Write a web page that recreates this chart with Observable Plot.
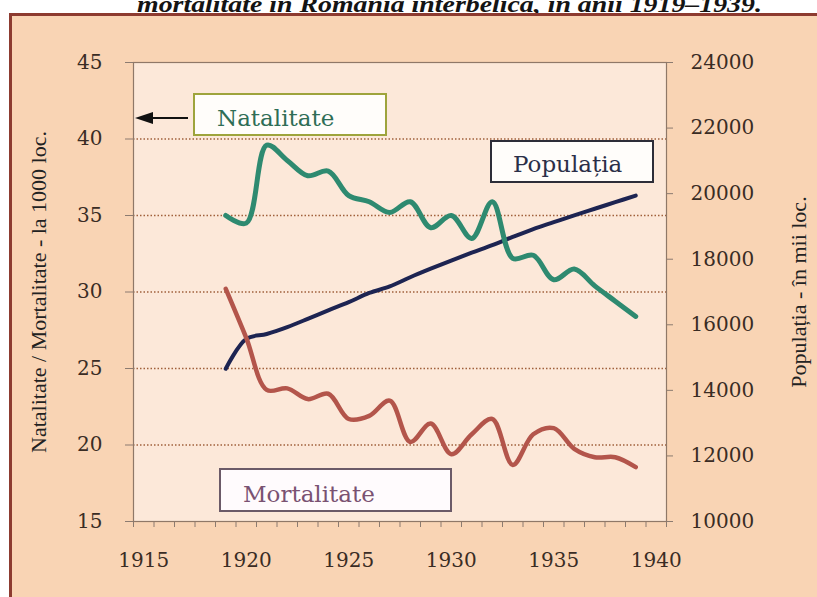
<!DOCTYPE html>
<html><head><meta charset="utf-8">
<script src="https://cdn.jsdelivr.net/npm/d3@7"></script>
<script src="https://cdn.jsdelivr.net/npm/@observablehq/plot@0.6"></script>
<style>
html,body{margin:0;padding:0;background:#fff;overflow:hidden;width:817px;height:597px;}
#wrap{position:relative;width:817px;height:597px;overflow:hidden;}
#title{position:absolute;left:137px;top:-9px;line-height:24px;font:italic bold 24px "Liberation Serif";color:#141414;white-space:nowrap;transform:scaleX(1.16);transform-origin:0 0;}
#frame{position:absolute;left:9px;top:13px;width:808px;height:584px;background:#f9d4b4;}
#bl{position:absolute;left:9px;top:13px;width:3px;height:584px;background:#8d3b30;}
#bt{position:absolute;left:9px;top:13px;width:808px;height:3px;background:#8d3b30;}
#chart{position:absolute;left:0;top:0;}
.box{position:absolute;box-sizing:border-box;font-family:"DejaVu Serif";font-size:23px;background:#fffdfa;white-space:nowrap;}
#arrow{position:absolute;left:0;top:0;}
</style></head>
<body>
<div id="wrap">
  <div id="title">mortalitate în România interbelică, în anii 1919–1939.</div>
  <div id="frame"></div>
  <div id="bl"></div>
  <div id="bt"></div>
  <div id="chart"></div>
  <svg id="arrow" width="817" height="597"><line x1="150" y1="118" x2="188" y2="118" stroke="#111" stroke-width="2"/><polygon points="135,118 153,112 153,124" fill="#111"/></svg>
  <div class="box" style="left:193px;top:93px;width:194px;height:43px;border:2px solid #9ea43c;color:#2f6e56;padding-left:22px;line-height:46px;">Natalitate</div>
  <div class="box" style="left:490px;top:140px;width:164px;height:43px;border:2px solid #2d2d38;color:#2b2f48;padding-left:21px;line-height:44px;">Populația</div>
  <div class="box" style="left:219px;top:468px;width:233px;height:44px;border:2px solid #6b5a68;color:#7a5272;padding-left:22px;line-height:48px;background:#fffbfd;">Mortalitate</div>
</div>
<script>
const years = [1919,1920,1921,1922,1923,1924,1925,1926,1927,1928,1929,1930,1931,1932,1933,1934,1935,1936,1937,1938,1939];
const natalitate = [35.0,34.5,39.6,38.6,37.6,37.9,36.3,35.9,35.2,35.9,34.2,35.0,33.5,35.9,32.2,32.4,30.8,31.5,30.4,29.4,28.4];
const mortalitate = [30.2,27.0,23.6,23.7,23.0,23.35,21.7,21.9,22.9,20.2,21.4,19.4,20.7,21.7,18.7,20.7,21.1,19.75,19.2,19.2,18.55];
const populatia = [14660,15570,15720,15930,16180,16440,16690,16970,17170,17450,17710,17960,18200,18430,18680,18920,19130,19340,19540,19740,19940];
const leftTicks = [15,20,25,30,35,40,45];
const gridTicks = [20,25,30,35,40];
const rightTicks = [10000,12000,14000,16000,18000,20000,22000,24000];
const xLabels = [1915,1920,1925,1930,1935,1940];
const minorTicks = [1914.5,1915.5,1916.5,1917.5,1918.5,1919.5,1920.5,1921.5,1922.5,1923.5,1924.5,1925.5,1926.5,1927.5,1928.5,1929.5,1930.5,1931.5,1932.5,1933.5,1934.5,1935.5,1936.5,1937.5,1938.5,1939.5,1940.5];

const popLeft = d3.scaleLinear().domain([10000,24000]).range([15,45]);
const rows = years.map((year,i)=>({year, nat: natalitate[i], mort: mortalitate[i], pop: popLeft(populatia[i])}));

const chart = Plot.plot({
  width:817, height:597,
  marginLeft:133, marginRight:151, marginTop:62, marginBottom:76,
  style:{background:"transparent", fontFamily:"DejaVu Serif", fontSize:"20px", color:"#3a2c24"},
  x:{domain:[1914.5,1940.5], label:null},
  y:{domain:[15,45], label:null},
  marks:[
    Plot.frame({fill:"#fce8d9", stroke:null}),
    Plot.ruleY(gridTicks, {stroke:"#a0603c", strokeDasharray:"1.5,2", strokeWidth:1.3}),
    Plot.axisY(leftTicks, {anchor:"left", tickSize:8, tickPadding:23, stroke:"#8c7b70", label:null}),
    Plot.axisY(rightTicks.map(popLeft), {anchor:"right", tickSize:6, tickPadding:18, stroke:"#8c7b70", tickFormat:d=>String(Math.round(popLeft.invert(d))), label:null}),
    Plot.axisX(minorTicks, {anchor:"bottom", tickSize:6, stroke:"#8c7b70", tickFormat:()=>"", label:null}),
    Plot.axisX(xLabels, {anchor:"bottom", tickSize:0, tickPadding:31, tickFormat:d=>String(d), label:null}),
    Plot.frame({stroke:"#8f7868", strokeWidth:1.2}),
    Plot.line(rows, {x:"year", y:"pop", stroke:"#1d2452", strokeWidth:4, curve:"catmull-rom"}),
    Plot.line(rows, {x:"year", y:"mort", stroke:"#b3554b", strokeWidth:4.5, curve:"catmull-rom"}),
    Plot.line(rows, {x:"year", y:"nat", stroke:"#2e8a70", strokeWidth:5, curve:"catmull-rom"}),
    Plot.text(["Natalitate / Mortalitate - la 1000 loc."], {frameAnchor:"left", textAnchor:"middle", dx:-95, rotate:-90, fontSize:22, fontFamily:"Liberation Serif", fill:"#222"}),
    Plot.text(["Populația - în mii loc."], {frameAnchor:"right", textAnchor:"middle", dx:132, rotate:-90, fontSize:22, fontFamily:"Liberation Serif", fill:"#222"})
  ]
});
document.getElementById("chart").appendChild(chart);
</script>
</body></html>
